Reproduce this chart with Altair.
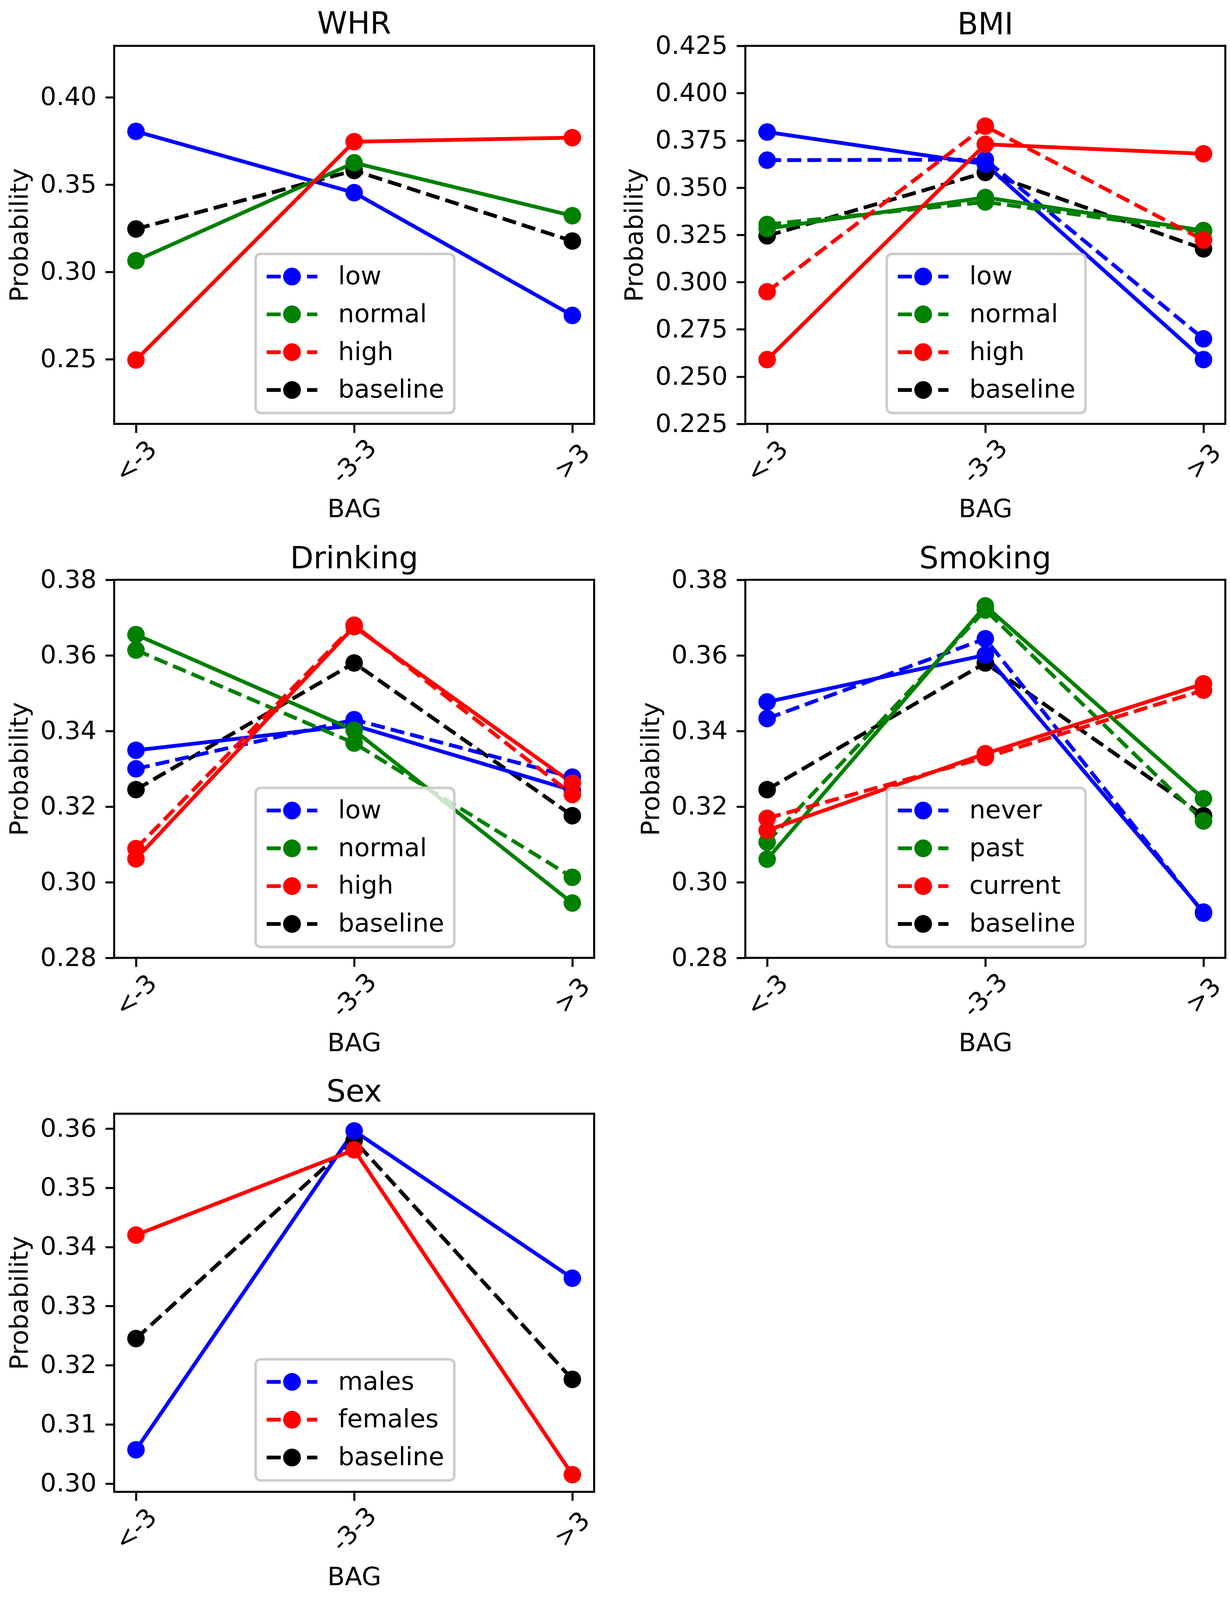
import altair as alt
import pandas as pd

categories = ["<-3", "-3-3", ">3"]
baseline = [0.3245, 0.3580, 0.3176]

whr_low = [0.3804, 0.3453, 0.2750]
whr_normal = [0.3064, 0.3624, 0.3321]
whr_high = [0.2495, 0.3745, 0.3768]

bmi_low_solid = [0.3794, 0.3624, 0.2590]
bmi_low_dashed = [0.3645, 0.3648, 0.2700]
bmi_normal_solid = [0.3283, 0.3448, 0.3273]
bmi_normal_dashed = [0.3305, 0.3424, 0.3266]
bmi_high_solid = [0.2590, 0.3729, 0.3679]
bmi_high_dashed = [0.2949, 0.3825, 0.3222]

drink_low_solid = [0.3349, 0.3415, 0.3243]
drink_low_dashed = [0.3300, 0.3430, 0.3278]
drink_normal_solid = [0.3655, 0.3402, 0.2945]
drink_normal_dashed = [0.3614, 0.3368, 0.3013]
drink_high_solid = [0.3062, 0.3676, 0.3262]
drink_high_dashed = [0.3089, 0.3680, 0.3232]

smoke_never_solid = [0.3477, 0.3601, 0.2921]
smoke_never_dashed = [0.3433, 0.3644, 0.2918]
smoke_past_solid = [0.3061, 0.3731, 0.3221]
smoke_past_dashed = [0.3106, 0.3720, 0.3162]
smoke_current_solid = [0.3137, 0.3340, 0.3525]
smoke_current_dashed = [0.3169, 0.3330, 0.3508]

sex_males = [0.3057, 0.3596, 0.3347]
sex_females = [0.3420, 0.3564, 0.3015]

level_groups = ["low", "normal", "high", "baseline"]
smoke_groups = ["never", "past", "current", "baseline"]
sex_groups = ["males", "females", "baseline"]
colors4 = ["#0000ff", "#008000", "#ff0000", "#000000"]
colors3 = ["#0000ff", "#ff0000", "#000000"]

whr_domain = [0.2129, 0.4294]
whr_ticks = [0.25, 0.30, 0.35, 0.40]
bmi_domain = [0.225, 0.425]
bmi_ticks = [0.225, 0.250, 0.275, 0.300, 0.325, 0.350, 0.375, 0.400, 0.425]
drink_domain = [0.28, 0.38]
drink_ticks = [0.28, 0.30, 0.32, 0.34, 0.36, 0.38]
sex_domain = [0.2986, 0.3625]
sex_ticks = [0.30, 0.31, 0.32, 0.33, 0.34, 0.35, 0.36]

FONT = "DejaVu Sans"
W, H = 1232, 970
LEGEND_SYMBOL = ("M-2.031,-0.152H-0.906V0.152H-2.031Z "
                 "M1.206,-0.152H2.031V0.152H1.206Z "
                 "M-0.711,0A0.711,0.711,0,1,0,0.711,0A0.711,0.711,0,1,0,-0.711,0Z")


def make_frame(series):
    rows = []
    for group, style, vals in series:
        for i, (c, v) in enumerate(zip(categories, vals)):
            rows.append({"group": group, "style": style, "bag": c, "idx": i, "prob": v})
    return pd.DataFrame(rows)


def panel(title, series, groups, colors, domain, ticks, fmt, legend_y, title_offset):
    df = make_frame(series)
    base = alt.Chart(df)
    x = alt.X("bag:O", sort=categories, scale=alt.Scale(padding=0.1),
              axis=alt.Axis(title="BAG", labelAngle=-45, labelAlign="center",
                            labelBaseline="middle", labelPadding=74, titlePadding=22,
                            labelFlush=False, maxExtent=500))
    y = alt.Y("prob:Q", scale=alt.Scale(domain=domain, zero=False, nice=False),
              axis=alt.Axis(title="Probability", values=ticks, format=fmt,
                            labelFlush=False, labelOverlap=False, titlePadding=18,
                            labelLimit=1000, maxExtent=500))
    lines = base.mark_line(strokeWidth=9.75, strokeCap="butt").encode(
        x=x, y=y,
        stroke=alt.Stroke("group:N",
                          scale=alt.Scale(domain=groups[::-1], range=colors[::-1]),
                          legend=None),
        strokeDash=alt.StrokeDash("style:N",
                                  scale=alt.Scale(domain=["solid", "dashed"], range=[[1, 0], [36, 15.6]]),
                                  legend=None),
        order=alt.Order("idx:Q"),
    )
    points = base.mark_circle(size=2025, opacity=1, strokeWidth=0).encode(
        x=x, y=y,
        fill=alt.Fill("group:N", scale=alt.Scale(domain=groups, range=colors),
                      legend=alt.Legend(title=None, orient="none", legendX=363, legendY=legend_y,
                                        symbolType=LEGEND_SYMBOL, symbolSize=4096,
                                        symbolStrokeWidth=0, symbolOffset=35.5,
                                        labelOffset=86, rowPadding=31, padding=25.5,
                                        labelFontSize=65, labelFont=FONT, labelLimit=1000,
                                        labelBaseline="middle",
                                        strokeColor="#cccccc", cornerRadius=13,
                                        fillColor="rgba(255,255,255,0.8)")),
    )
    return alt.layer(lines, points).properties(
        width=W, height=H,
        title=alt.Title(title, fontSize=78, fontWeight="normal", font=FONT, frame="group",
                        baseline="alphabetic", offset=title_offset, anchor="middle", color="black"),
    )


whr = panel("WHR",
            [("baseline", "dashed", baseline),
             ("low", "solid", whr_low), ("normal", "solid", whr_normal), ("high", "solid", whr_high)],
            level_groups, colors4, whr_domain, whr_ticks, ".2f", 534, -46.5)

bmi = panel("BMI",
            [("baseline", "dashed", baseline),
             ("low", "solid", bmi_low_solid), ("low", "dashed", bmi_low_dashed),
             ("normal", "solid", bmi_normal_solid), ("normal", "dashed", bmi_normal_dashed),
             ("high", "solid", bmi_high_solid), ("high", "dashed", bmi_high_dashed)],
            level_groups, colors4, bmi_domain, bmi_ticks, ".3f", 534, -80.5)

drink = panel("Drinking",
              [("baseline", "dashed", baseline),
               ("low", "solid", drink_low_solid), ("low", "dashed", drink_low_dashed),
               ("normal", "solid", drink_normal_solid), ("normal", "dashed", drink_normal_dashed),
               ("high", "solid", drink_high_solid), ("high", "dashed", drink_high_dashed)],
              level_groups, colors4, drink_domain, drink_ticks, ".2f", 534, -80.5)

smoke = panel("Smoking",
              [("baseline", "dashed", baseline),
               ("never", "solid", smoke_never_solid), ("never", "dashed", smoke_never_dashed),
               ("past", "solid", smoke_past_solid), ("past", "dashed", smoke_past_dashed),
               ("current", "solid", smoke_current_solid), ("current", "dashed", smoke_current_dashed)],
              smoke_groups, colors4, drink_domain, drink_ticks, ".2f", 534, -80.5)

sex = panel("Sex",
            [("baseline", "dashed", baseline),
             ("males", "solid", sex_males), ("females", "solid", sex_females)],
            sex_groups, colors3, sex_domain, sex_ticks, ".2f", 630, -46.5)

chart = alt.concat(
    whr, bmi, drink, smoke, sex, columns=2,
    spacing={"row": 400, "column": 388}, bounds="flush",
).resolve_scale(
    x="independent", y="independent", fill="independent", stroke="independent",
    strokeDash="independent",
).resolve_legend(fill="independent", stroke="independent").properties(
    padding={"left": 8, "top": 8, "right": 0, "bottom": 0}
).configure(font=FONT).configure_view(
    stroke="black", strokeWidth=5.2
).configure_axis(
    tickSize=22.75, tickWidth=5.2, tickColor="black", domain=False, grid=False,
    labelFontSize=65, labelFont=FONT, labelColor="black", labelPadding=22.75,
    titleFontSize=65, titleFont=FONT, titleFontWeight="normal", titleColor="black",
).configure_legend(strokeWidth=6.5, labelColor="black")

chart.save("out.html", embed_options={"renderer": "svg", "actions": False})
